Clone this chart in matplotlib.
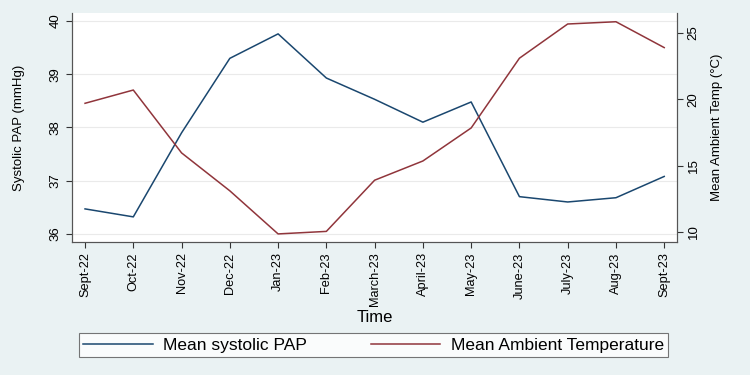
import matplotlib.pyplot as plt

plt.rcParams['font.family'] = ['Liberation Sans', 'DejaVu Sans']

months = ["Sept-22", "Oct-22", "Nov-22", "Dec-22", "Jan-23", "Feb-23", "March-23",
          "April-23", "May-23", "June-23", "July-23", "Aug-23", "Sept-23"]
pap = [36.47, 36.32, 37.9, 39.3, 39.76, 38.93, 38.53, 38.1, 38.48, 36.7, 36.6, 36.68, 37.08]
temp = [19.7, 20.7, 15.96, 13.1, 9.85, 10.04, 13.9, 15.35, 17.84, 23.1, 25.68, 25.85, 23.9]

bg = "#eaf2f3"
blue = "#1a476f"
red = "#90353b"

fig = plt.figure(figsize=(7.5, 3.75), dpi=100, facecolor=bg)
ax = fig.add_axes([0.096, 0.355, 0.807, 0.61])
ax2 = ax.twinx()

x = list(range(len(months)))
l1, = ax.plot(x, pap, color=blue, lw=1.1)
l2, = ax2.plot(x, temp, color=red, lw=1.1)

ax.set_xlim(-0.27, 12.27)
ax.set_ylim(35.85, 40.15)
ax2.set_ylim(9.25, 26.5)

ax.set_yticks([36, 37, 38, 39, 40])
ax2.set_yticks([10, 15, 20, 25])
ax.grid(axis='y', color="#eaeaea", lw=0.8)
ax.set_axisbelow(True)

ax.set_xticks(x)
ax.set_xticklabels(months, rotation=90, fontsize=9.2)
for a in (ax, ax2):
    for lab in a.get_yticklabels():
        lab.set_rotation(90)
        lab.set_va('center')
        lab.set_fontsize(9.5)
ax.tick_params(axis='both', color="#333333", length=4)
ax2.tick_params(axis='y', color="#333333", length=4)

ax.set_ylabel("Systolic PAP (mmHg)", fontsize=9.5)
ax2.set_ylabel("Mean Ambient Temp (°C)", fontsize=9.5)
ax.yaxis.set_label_coords(-0.078, 0.5)
ax2.yaxis.set_label_coords(1.056, 0.5)
ax.set_xlabel("Time", fontsize=12)
ax.xaxis.set_label_coords(0.5, -0.332)
ax.xaxis.label.set_va('center')

for a in (ax, ax2):
    a.spines['top'].set_visible(False)
    for s in ('left', 'right', 'bottom'):
        a.spines[s].set_color("#555555")
        a.spines[s].set_linewidth(0.8)

leg = fig.legend([l1, l2], ["Mean systolic PAP", "Mean Ambient Temperature"],
                 loc='center', bbox_to_anchor=(0.105, 0.05, 0.786, 0.06), mode='expand',
                 ncol=2, fontsize=12.5,
                 frameon=True, fancybox=False, edgecolor="#555555",
                 handlelength=4.0, handletextpad=0.6, columnspacing=1.9,
                 borderpad=0.25, borderaxespad=0)
leg.get_frame().set_linewidth(0.8)
leg.get_frame().set_facecolor("white")

fig.savefig("out.png", dpi=100, facecolor=bg)
